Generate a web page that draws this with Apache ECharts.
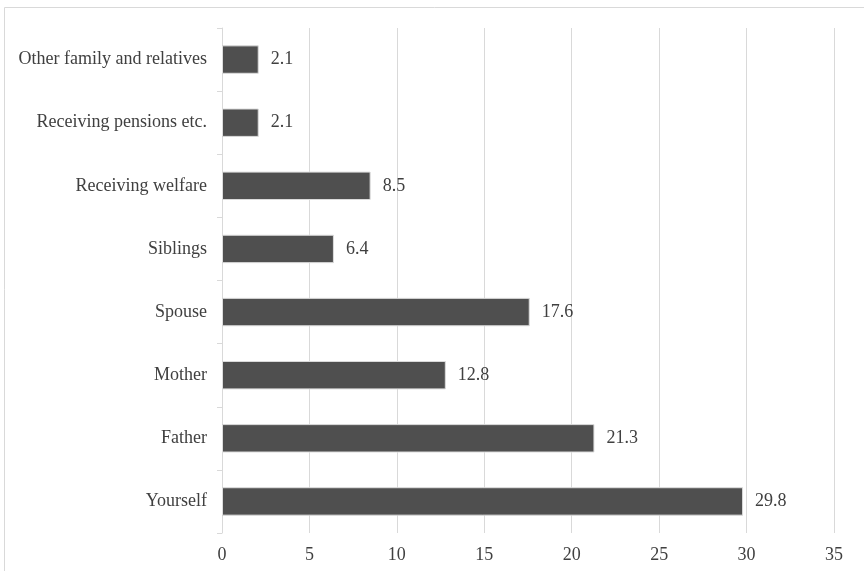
<!DOCTYPE html>
<html><head><meta charset="utf-8">
<script src="https://cdn.jsdelivr.net/npm/echarts@6/dist/echarts.min.js"></script>
<style>html,body{margin:0;padding:0;background:#fff}#c{width:864px;height:571px}</style>
</head><body><div id="c"></div>
<script>
const categories = ["Yourself","Father","Mother","Spouse","Siblings","Receiving welfare","Receiving pensions etc.","Other family and relatives"];
const values = [29.8, 21.3, 12.8, 17.6, 6.4, 8.5, 2.1, 2.1];
const xTicks = [0,5,10,15,20,25,30,35];
const font = "'Liberation Serif', serif";
const fs = 18;
const chart = echarts.init(document.getElementById('c'));
chart.setOption({
  animation:false,
  graphic:[
    {type:'line',shape:{x1:4.5,y1:7.5,x2:870,y2:7.5},style:{stroke:'#d9d9d9',lineWidth:1}},
    {type:'line',shape:{x1:4.5,y1:7.5,x2:4.5,y2:580},style:{stroke:'#d9d9d9',lineWidth:1}}
  ],
  grid:{left:222,right:30,top:28,bottom:38,containLabel:false},
  xAxis:{type:'value',min:xTicks[0],max:xTicks[xTicks.length-1],interval:5,
    axisLine:{show:false},axisTick:{show:false},
    splitLine:{lineStyle:{color:'#d9d9d9',width:1}},
    axisLabel:{color:'#404040',fontFamily:font,fontSize:fs,margin:13}},
  yAxis:{type:'category',data:categories,
    axisLine:{lineStyle:{color:'#d9d9d9'}},
    axisTick:{show:true,length:5,lineStyle:{color:'#d9d9d9'}},
    axisLabel:{color:'#404040',fontFamily:font,fontSize:fs,margin:15}},
  series:[{type:'bar',data:values,barCategoryGap:'55%',
    itemStyle:{color:'#4f4f4f',borderColor:'#dcdcdc',borderWidth:1},
    label:{show:true,position:'right',distance:12,color:'#404040',fontFamily:font,fontSize:fs,
      formatter:p=>p.value.toFixed(1)}}]
});
</script></body></html>
